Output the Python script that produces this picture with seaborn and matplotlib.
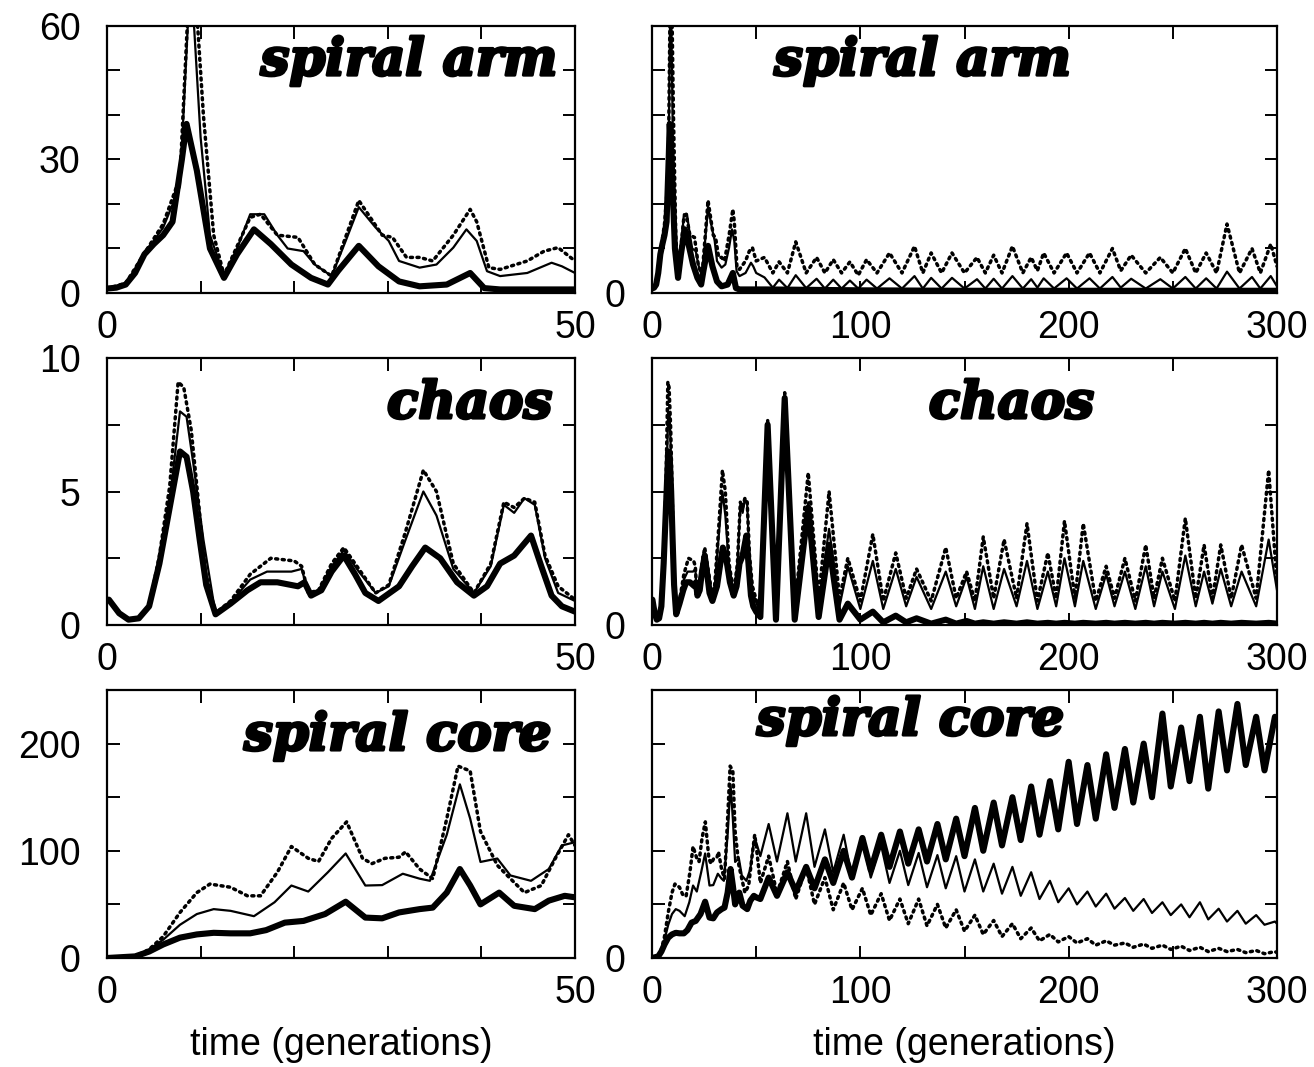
import matplotlib
matplotlib.use("Agg")
import matplotlib.pyplot as plt
import matplotlib.patheffects as pe
import seaborn as sns

# ---------------- data ----------------
# spiral arm, generations 0-50
arm_thick_t = [0, 1, 2, 3, 4, 5, 6, 7, 8, 8.5, 9.6, 11, 12.5, 13.9, 15.7, 17.5, 19.7, 21.8, 23.6, 24.7,
               26.9, 29, 31.2, 33.4, 36.3, 38.8, 40.3, 42, 45, 50]
arm_thick = [1, 1.2, 1.9, 4.5, 8.7, 11, 13, 16, 30, 38, 27.5, 10, 3.4, 8.7, 14.3, 11, 6.4, 3.4, 1.9, 5,
             10.6, 6, 2.6, 1.5, 1.9, 4.5, 1.1, 0.8, 0.8, 0.8]
arm_thin_t = [0, 2, 4.2, 6, 7.8, 8.7, 9.3, 10, 11, 12.5, 13.9, 15.3, 16.8, 18.2, 19.3, 21, 22.2, 24, 25.5,
              26.9, 28.7, 30.1, 31.2, 33.4, 35.2, 37, 38.4, 39.5, 40.6, 42, 44.9, 47.5, 48.6, 50]
arm_thin = [1, 2, 9.4, 14.7, 24, 63, 60, 35, 13, 4, 10, 17.7, 17.7, 13, 10, 9.4, 6.4, 3.8, 11.7, 19.3,
            14.7, 11.7, 7.2, 5.7, 6.4, 10.2, 14.3, 11.7, 4.9, 3.8, 4.5, 6.8, 6, 4.5]
arm_dot_t = [0, 2, 4.2, 6, 7.8, 8.8, 9.5, 10.3, 11.4, 12.5, 15.3, 16.4, 18.2, 20.4, 22.2, 24, 26.9, 29.4,
             30.5, 32, 33.4, 34.8, 37, 38.8, 39.5, 40.8, 42, 44.9, 46.7, 48.2, 50]
arm_dot = [1, 2.2, 9.6, 15.5, 26, 70, 66, 40, 13, 4, 17, 17.7, 13, 12.5, 6.4, 3.8, 20.8, 13, 12.5, 8,
           8, 7.2, 13, 18.8, 16, 5.7, 5.3, 7.2, 9.4, 10.2, 7.2]

# spiral arm, generations 50-300
arm_thick_tail_t = [55, 100, 150, 200, 250, 300]
arm_thick_tail = [0.8, 0.6, 0.5, 0.5, 0.5, 0.5]
arm_tail_t = [54, 58, 61, 65, 69, 74, 79, 83, 87, 91, 95, 99, 103, 108, 114, 120, 126, 130, 134, 139,
              144, 150, 156, 160, 164, 168, 173, 178, 182, 185, 188, 193, 199, 204, 210, 215, 221, 225,
              230, 237, 244, 250, 256, 261, 266, 271, 276, 282, 288, 292, 297, 300]
arm_thin_tail = [3.5, 1.2, 3, 1.1, 4, 1.1, 3.2, 1, 3, 1, 2.8, 1, 3, 1, 3.3, 1, 3.8, 1, 3.4, 1,
                 3.4, 1, 3.1, 1, 3.2, 1, 3.8, 1, 3.1, 1.2, 3.3, 1, 3.3, 1, 3.3, 1, 3.6, 1.2,
                 3.2, 1, 3.1, 1, 3.6, 1, 3.3, 1, 4.8, 1, 3.6, 1, 3.8, 1.5]
arm_dot_tail = [8, 4.5, 7, 4.5, 11.5, 4.5, 8, 4.5, 7.5, 4.5, 7, 4, 7.5, 4.5, 9, 4.5, 10.5, 4.5, 9, 4.5,
                9, 4.5, 8, 4.5, 8.5, 4.5, 10.5, 4.5, 8, 5, 9, 4.5, 9, 4.5, 9, 4.5, 10, 5,
                8.5, 4.5, 8, 4.5, 10, 4.5, 9, 4.5, 15.5, 4.5, 10, 4.5, 11, 6]

# chaos, generations 0-50
chaos_thick_t = [0.2, 1.3, 2.3, 3.4, 4.5, 5.6, 6.7, 7.8, 8.5, 9.2, 9.9, 10.6, 11.6, 13.2, 15, 16.4, 18.2,
                 20.4, 21.1, 21.8, 22.9, 24, 25.3, 26.5, 27.6, 29, 31.2, 32.6, 34, 35.6, 37.4, 39.2, 40.6,
                 42, 43.5, 45.3, 46.4, 47.5, 48.6, 50]
chaos_thick = [0.95, 0.44, 0.2, 0.25, 0.7, 2.3, 4.4, 6.5, 6.3, 5, 3.2, 1.5, 0.4, 0.8, 1.3, 1.6, 1.6,
               1.45, 1.6, 1.1, 1.3, 2, 2.6, 1.9, 1.2, 0.9, 1.45, 2.2, 2.9, 2.5, 1.6, 1.1, 1.45,
               2.3, 2.6, 3.35, 2.2, 1.1, 0.7, 0.5]
chaos_thin_t = [0.2, 1.3, 2.3, 3.4, 4.5, 5.6, 6.7, 7.8, 8.5, 9.2, 10.3, 11.6, 13.2, 15.3, 17.1, 19.7, 20.8,
                21.5, 22.6, 24, 25.3, 26.9, 28.7, 30.1, 31.9, 33.8, 35.2, 37, 39.2, 41, 42.4, 43.5, 44.6,
                45.7, 46.8, 48.2, 50]
chaos_thin = [0.95, 0.44, 0.2, 0.25, 0.7, 2.4, 4.7, 8, 7.8, 6.1, 3.2, 0.4, 0.85, 1.7, 2, 2, 2.1,
              1.2, 1.3, 2.2, 2.8, 2, 1.2, 1.45, 3.2, 5, 4.1, 2.1, 1.2, 2.2, 4.5, 4.2, 4.75,
              4.5, 2.5, 1.2, 0.9]
chaos_dot_t = [0.2, 1.3, 2.3, 3.4, 4.5, 5.6, 6.7, 7.6, 8.2, 9, 9.8, 10.5, 11.6, 13.2, 15.3, 17.5, 20, 20.8,
               21.5, 22.6, 24, 25.3, 26.9, 28.7, 30.1, 31.9, 33.8, 35.2, 37, 39.2, 41, 42.4, 43.5, 44.6,
               45.7, 46.8, 48.2, 50]
chaos_dot = [0.95, 0.44, 0.2, 0.25, 0.7, 2.6, 5.2, 9.1, 8.9, 7.3, 4.5, 2, 0.45, 0.9, 1.9, 2.5, 2.4, 2.2,
             1.2, 1.3, 2.3, 2.9, 2.1, 1.2, 1.5, 3.5, 5.8, 5, 2.3, 1.2, 2.3, 4.6, 4.4, 4.75,
             4.6, 2.6, 1.45, 0.95]

# chaos, generations 50-300
chaos_tail_t = [52, 55.5, 59.5, 63.7, 68.5, 75, 80, 85, 90, 94, 100, 106, 111, 117, 122, 127, 134, 141,
                146, 151, 155, 159, 164, 169, 175, 180, 185, 190, 194, 198, 203, 207, 213, 218, 222, 227,
                232, 237, 241, 245, 251, 256, 261, 265, 269, 273, 278, 283, 290, 296, 300]
chaos_thick_tail = [0.3, 7.5, 0.2, 8.5, 0.2, 4.4, 0.3, 3.0, 0.2, 0.8, 0.2, 0.5, 0.1, 0.35, 0.1, 0.25, 0.05,
                    0.2, 0.05, 0.15, 0.05, 0.1, 0.05, 0.1, 0.05, 0.1, 0.05, 0.08, 0.05, 0.08, 0.05, 0.08,
                    0.05, 0.08, 0.05, 0.08, 0.05, 0.08, 0.05, 0.08, 0.05, 0.08, 0.05, 0.08, 0.05, 0.08,
                    0.05, 0.08, 0.05, 0.08, 0.05]
chaos_thin_tail = [0.3, 7.6, 0.3, 8.6, 0.4, 4.6, 0.8, 3.6, 0.7, 2.2, 0.6, 2.4, 0.6, 2.1, 0.7, 1.8, 0.6,
                   2.0, 0.7, 1.8, 0.6, 2.2, 0.6, 2.1, 0.7, 2.4, 0.6, 2.0, 0.7, 2.5, 0.7, 2.4, 0.6, 1.9,
                   0.7, 2.0, 0.6, 2.2, 0.7, 2.0, 0.6, 2.6, 0.7, 2.0, 0.8, 2.1, 0.7, 2.0, 0.7, 3.2, 1.3]
chaos_dot_tail = [0.4, 7.7, 0.4, 8.7, 0.6, 5.7, 1.0, 5.0, 1.0, 2.5, 0.9, 3.4, 0.9, 2.7, 1.0, 2.1, 0.9,
                  2.9, 1.0, 2.0, 0.9, 3.3, 1.0, 3.2, 1.0, 3.8, 0.9, 2.7, 1.0, 3.9, 1.0, 3.8, 0.9, 2.2,
                  1.0, 2.5, 0.9, 3.0, 1.0, 2.5, 0.9, 4.0, 1.0, 3.0, 1.0, 3.0, 1.0, 3.0, 1.0, 5.8, 1.6]

# spiral core, generations 0-50
core_thick_t = [0, 3, 4.5, 6, 7.8, 9.6, 11.4, 13.2, 15.3, 17, 19, 21, 23.3, 25.5, 27.6, 29.4, 31.2, 33.4,
                34.8, 36.3, 37.7, 38.8, 39.9, 41.9, 43.5, 45.7, 47.2, 48.9, 50]
core_thick = [0, 1.5, 6, 12.6, 19, 22, 23.5, 23, 23, 26, 33, 34.6, 41, 52.5, 37.7, 37, 42.5, 45.6,
              47, 61, 83, 67.6, 50, 61, 48.7, 45.6, 53.5, 58, 56.6]
core_thin_t = [0, 3, 4.5, 6, 7.8, 9.6, 11.4, 13.2, 15.7, 17.9, 19.7, 21.5, 23.6, 25.5, 27.6, 29.4, 31.6,
               33.4, 34.5, 36.3, 37.7, 38.8, 39.9, 41.7, 43.1, 45.3, 47.2, 48.6, 50]
core_thin = [0, 1.5, 8, 17, 31, 41, 45.6, 44, 39, 52, 67.6, 62, 80, 97.5, 67.6, 68, 78.6,
             74, 72, 115, 162, 130, 89.6, 92.8, 77, 72, 83, 105, 108]
core_dot_t = [0, 3, 4.5, 6, 7.8, 9.6, 11, 13.2, 15, 16.4, 18.2, 19.7, 21.5, 22.6, 24, 25.6, 27.3, 28.3,
              29.7, 31.2, 31.9, 33.4, 34.8, 36.3, 37.5, 38.8, 39.9, 41.7, 43.1, 44.6, 46.4, 47.9, 49.3, 50]
core_dot = [0, 1.5, 8, 20, 42.5, 61, 69, 66, 58, 58, 80, 104, 93, 90, 111.6, 127, 93, 88,
            93, 94, 99, 83, 74, 130, 179, 174.5, 118, 86.5, 74, 61, 67.6, 93, 115, 105]

# spiral core, generations 50-300
core_tail_t = [52, 56, 60, 65, 69, 74, 78, 83, 87, 92, 96, 101, 105, 110, 114, 119, 123, 128, 132, 137,
               141, 146, 150, 155, 159, 164, 168, 173, 177, 182, 186, 191, 195, 200, 204, 209, 213, 218,
               222, 227, 231, 236, 240, 245, 249, 254, 258, 263, 267, 272, 276, 281, 285, 290, 294, 299, 300]
core_thick_tail = [55, 75, 58, 80, 62, 85, 65, 92, 70, 100, 75, 112, 82, 115, 85, 118, 88, 120, 90, 125,
                   92, 130, 95, 140, 100, 145, 105, 150, 110, 160, 115, 165, 120, 183, 125, 180, 130, 190,
                   140, 195, 145, 200, 150, 228, 160, 215, 165, 225, 158, 230, 175, 237, 180, 225, 175, 225, 222]
core_thin_tail = [95, 125, 90, 135, 90, 135, 85, 120, 80, 115, 75, 110, 75, 105, 70, 100, 68, 98, 66, 96,
                  65, 95, 62, 92, 62, 88, 60, 85, 58, 80, 55, 72, 52, 65, 50, 62, 48, 60,
                  46, 56, 44, 55, 42, 52, 40, 50, 38, 52, 36, 46, 34, 44, 32, 40, 31, 34, 32]
core_dot_tail = [70, 95, 60, 90, 55, 85, 50, 75, 45, 70, 45, 65, 40, 60, 35, 55, 32, 55, 30, 50,
                 28, 45, 25, 40, 22, 35, 20, 32, 18, 28, 16, 22, 15, 20, 14, 18, 12, 16,
                 12, 14, 10, 13, 9, 12, 8, 11, 7, 10, 6, 9, 6, 8, 5, 7, 4, 6, 5]

titles = ["spiral arm", "chaos", "spiral core"]
y_max = [60, 10, 250]
y_step = [10, 2.5, 50]
y_labelled = [[0, 30, 60], [0, 5, 10], [0, 100, 200]]

# ---------------- plotting ----------------
sns.set_style("ticks")
plt.rcParams['font.family'] = ['Liberation Sans', 'DejaVu Sans']
plt.rcParams['text.color'] = 'black'
plt.rcParams['axes.labelcolor'] = 'black'

THICK = dict(color='black', linewidth=4.4)
THIN = dict(color='black', linewidth=1.6)
DOT = dict(color='black', linewidth=2.5, linestyle=(0, (0.6, 1.3)), dash_capstyle='round')


def draw(ax, series):
    for t, v, style in series:
        sns.lineplot(x=t, y=v, ax=ax, estimator=None, sort=False, legend=False, **style)


def fmt_ticks(v):
    return str(int(v)) if float(v).is_integer() else str(v)


fig = plt.figure(figsize=(13.14, 10.67), dpi=100)
W, H = 1314, 1067
rows = [(26, 293), (358, 625), (690, 958)]
title_pos = [((0.962, 0.816), (0.670, 0.816)),
             ((0.951, 0.775), (0.707, 0.775)),
             ((0.949, 0.776), (0.659, 0.832))]

data_left = [
    [(arm_dot_t, arm_dot, DOT), (arm_thin_t, arm_thin, THIN), (arm_thick_t, arm_thick, THICK)],
    [(chaos_dot_t, chaos_dot, DOT), (chaos_thin_t, chaos_thin, THIN), (chaos_thick_t, chaos_thick, THICK)],
    [(core_dot_t, core_dot, DOT), (core_thin_t, core_thin, THIN), (core_thick_t, core_thick, THICK)],
]
data_right = [
    [(arm_dot_t + arm_tail_t, arm_dot + arm_dot_tail, DOT),
     (arm_thin_t + arm_tail_t, arm_thin + arm_thin_tail, THIN),
     (arm_thick_t + arm_thick_tail_t, arm_thick + arm_thick_tail, THICK)],
    [(chaos_dot_t + chaos_tail_t, chaos_dot + chaos_dot_tail, DOT),
     (chaos_thin_t + chaos_tail_t, chaos_thin + chaos_thin_tail, THIN),
     (chaos_thick_t + chaos_tail_t, chaos_thick + chaos_thick_tail, THICK)],
    [(core_dot_t + core_tail_t, core_dot + core_dot_tail, DOT),
     (core_thin_t + core_tail_t, core_thin + core_thin_tail, THIN),
     (core_thick_t + core_tail_t, core_thick + core_thick_tail, THICK)],
]

for r, (top, bottom) in enumerate(rows):
    b = 1 - bottom / H
    h = (bottom - top) / H
    ax_l = fig.add_axes([107 / W, b, 468 / W, h])
    ax_r = fig.add_axes([652 / W, b, 625 / W, h])
    draw(ax_l, data_left[r])
    draw(ax_r, data_right[r])

    yt = [i * y_step[r] for i in range(int(round(y_max[r] / y_step[r])) + 1)]
    for ax, xmax, xstep, xlab, side in [(ax_l, 50, 10, [0, 50], 0), (ax_r, 300, 50, [0, 100, 200, 300], 1)]:
        ax.set_xlim(0, xmax)
        ax.set_ylim(0, y_max[r])
        xt = list(range(0, xmax + 1, xstep))
        ax.set_xticks(xt)
        ax.set_xticklabels([str(x) if x in xlab else '' for x in xt])
        ax.set_yticks(yt)
        if side == 0:
            ax.set_yticklabels([fmt_ticks(y) if y in y_labelled[r] else '' for y in yt])
        else:
            ax.set_yticklabels(['0'] + [''] * (len(yt) - 1))
        ax.tick_params(axis='both', direction='in', length=9, width=1.4, top=True, right=True,
                       labelsize=27, colors='black')
        ax.tick_params(axis='x', pad=12)
        ax.tick_params(axis='y', pad=19)
        for sp in ax.spines.values():
            sp.set_linewidth(1.6)
            sp.set_color('black')
        ax.set_xlabel('')
        ax.set_ylabel('')
        tx, ty = title_pos[r][side]
        ax.text(tx, ty, titles[r], transform=ax.transAxes, ha='right', va='baseline',
                fontsize=37, family='DejaVu Serif', weight='bold', style='italic', color='black',
                path_effects=[pe.withStroke(linewidth=2.2, foreground='black')])
        if r == 2:
            ax.set_xlabel('time (generations)', fontsize=27, labelpad=12, color='black')

fig.savefig('out.png', dpi=100, facecolor='white')
